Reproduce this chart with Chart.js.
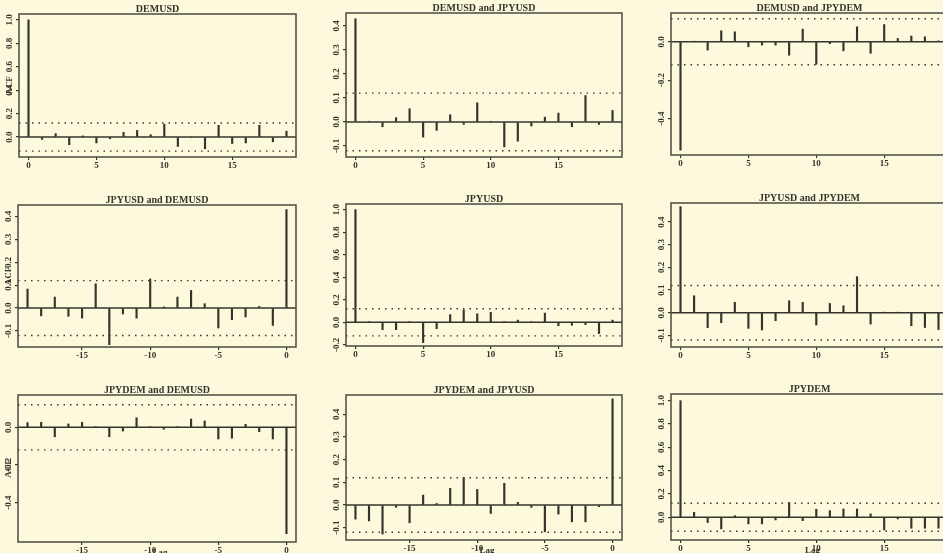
<!DOCTYPE html>
<html lang="en">
<head>
<meta charset="UTF-8">
<title>ACF and CCF of DEMUSD, JPYUSD, JPYDEM</title>
<script src="https://cdn.jsdelivr.net/npm/chart.js"></script>
<style>
    html, body {
        margin: 0;
        padding: 0;
        width: 943px;
        height: 553px;
        overflow: hidden;
        background: #fcf9dd;
    }
    canvas {
        position: absolute;
    }
</style>
</head>
<body>
<canvas id="p1"></canvas>
<canvas id="p2"></canvas>
<canvas id="p3"></canvas>
<canvas id="p4"></canvas>
<canvas id="p5"></canvas>
<canvas id="p6"></canvas>
<canvas id="p7"></canvas>
<canvas id="p8"></canvas>
<canvas id="p9"></canvas>
<script>
// lags
const lagsPos = [0, 1, 2, 3, 4, 5, 6, 7, 8, 9, 10, 11, 12, 13, 14, 15, 16, 17, 18, 19];
const lagsNeg = [-19, -18, -17, -16, -15, -14, -13, -12, -11, -10, -9, -8, -7, -6, -5, -4, -3, -2, -1, 0];

// row 1
const acfDEMUSD = [1.0, -0.02, 0.03, -0.065, 0.01, -0.05, -0.015, 0.04, 0.057, 0.02, 0.11, -0.08, -0.005, -0.10, 0.10, -0.055, -0.05, 0.10, -0.04, 0.05];
const ccfDEMUSD_JPYUSD = [0.43, 0.003, -0.02, 0.018, 0.055, -0.063, -0.035, 0.03, -0.01, 0.08, 0.002, -0.104, -0.08, -0.017, 0.02, 0.037, -0.02, 0.11, -0.01, 0.048];
const ccfDEMUSD_JPYDEM = [-0.565, 0.003, -0.043, 0.057, 0.052, -0.026, -0.017, -0.017, -0.07, 0.066, -0.117, -0.01, -0.047, 0.078, -0.06, 0.09, 0.017, 0.03, 0.026, 0.005];

// row 2
const ccfJPYUSD_DEMUSD = [0.083, -0.034, 0.048, -0.036, -0.044, 0.106, -0.16, -0.026, -0.044, 0.127, 0.005, 0.048, 0.077, 0.019, -0.087, -0.051, -0.039, 0.007, -0.076, 0.43];
const acfJPYUSD = [1.0, 0.002, -0.065, -0.065, 0.002, -0.18, -0.056, 0.068, 0.11, 0.076, 0.088, 0.002, 0.02, 0.002, 0.082, -0.03, -0.026, -0.02, -0.1, 0.02];
const ccfJPYUSD_JPYDEM = [0.468, 0.075, -0.066, -0.044, 0.046, -0.069, -0.076, -0.035, 0.053, 0.046, -0.054, 0.041, 0.031, 0.159, -0.05, 0.002, 0.002, -0.057, -0.065, -0.074];

// row 3
const ccfJPYDEM_DEMUSD = [0.025, 0.027, -0.05, 0.018, 0.027, 0.003, -0.05, -0.02, 0.051, 0.002, -0.01, 0.002, 0.044, 0.034, -0.062, -0.058, 0.016, -0.023, -0.062, -0.566];
const ccfJPYDEM_JPYUSD = [-0.062, -0.07, -0.128, -0.01, -0.078, 0.044, 0.007, 0.074, 0.12, 0.069, -0.037, 0.096, 0.012, -0.01, -0.118, -0.04, -0.074, -0.074, -0.007, 0.468];
const acfJPYDEM = [1.0, 0.043, -0.046, -0.1, 0.014, -0.057, -0.057, -0.023, 0.126, -0.029, 0.069, 0.057, 0.071, 0.071, 0.029, -0.109, -0.014, -0.094, -0.094, -0.094];

// approx 95% bound, drawn dotted
const confBound = 0.12;

// tick labels
const xTicksPos = [0, 5, 10, 15];
const xTicksNeg = [-15, -10, -5, 0];
const yTicksAcf = [0, 0.2, 0.4, 0.6, 0.8, 1.0];
const yTicksAcfLow = [-0.2, 0, 0.2, 0.4, 0.6, 0.8, 1.0];
const yTicksCross = [-0.1, 0, 0.1, 0.2, 0.3, 0.4];
const yTicksNeg = [-0.4, -0.2, 0];

const ink = '#35352c';
const serif = "'Liberation Serif', 'DejaVu Serif', serif";

// box = [left, top, right, bottom] of the plot frame on the page
const panels = [
    { id: 'p1', title: 'DEMUSD', lags: lagsPos, vals: acfDEMUSD, y: [-0.17, 1.05], yTicks: yTicksAcf, xTicks: xTicksPos, box: [19, 14, 296, 157], ylab: true },
    { id: 'p2', title: 'DEMUSD and JPYUSD', lags: lagsPos, vals: ccfDEMUSD_JPYUSD, y: [-0.146, 0.454], yTicks: yTicksCross, xTicks: xTicksPos, box: [346, 13, 622, 157] },
    { id: 'p3', title: 'DEMUSD and JPYDEM', lags: lagsPos, vals: ccfDEMUSD_JPYDEM, y: [-0.59, 0.15], yTicks: yTicksNeg, xTicks: xTicksPos, box: [671, 13, 948, 155] },
    { id: 'p4', title: 'JPYUSD and DEMUSD', lags: lagsNeg, vals: ccfJPYUSD_DEMUSD, y: [-0.17, 0.45], yTicks: yTicksCross, xTicks: xTicksNeg, box: [18, 205, 296, 347], ylab: true },
    { id: 'p5', title: 'JPYUSD', lags: lagsPos, vals: acfJPYUSD, y: [-0.21, 1.05], yTicks: yTicksAcfLow, xTicks: xTicksPos, box: [346, 204, 622, 346] },
    { id: 'p6', title: 'JPYUSD and JPYDEM', lags: lagsPos, vals: ccfJPYUSD_JPYDEM, y: [-0.151, 0.484], yTicks: yTicksCross, xTicks: xTicksPos, box: [671, 203, 948, 347] },
    { id: 'p7', title: 'JPYDEM and DEMUSD', lags: lagsNeg, vals: ccfJPYDEM_DEMUSD, y: [-0.61, 0.172], yTicks: yTicksNeg, xTicks: xTicksNeg, box: [18, 395, 296, 542], ylab: true, xlab: true },
    { id: 'p8', title: 'JPYDEM and JPYUSD', lags: lagsNeg, vals: ccfJPYDEM_JPYUSD, y: [-0.154, 0.485], yTicks: yTicksCross, xTicks: xTicksNeg, box: [346, 395, 622, 540], xlab: true },
    { id: 'p9', title: 'JPYDEM', lags: lagsPos, vals: acfJPYDEM, y: [-0.195, 1.057], yTicks: yTicksAcf, xTicks: xTicksPos, box: [671, 394, 948, 540], xlab: true }
];

const Y_W = 18, TITLE_H = 14, X_H = 20, PAD_R = 2;

// frame, rotated y labels, ACF / Lag titles
const decor = {
    id: 'decor',
    afterDatasetsDraw(chart) {
        const a = chart.chartArea, ctx = chart.ctx;
        ctx.save();
        ctx.strokeStyle = '#4a4a40';
        ctx.lineWidth = 1.5;
        ctx.strokeRect(a.left, a.top, a.right - a.left, a.bottom - a.top);
        ctx.restore();
    },
    afterDraw(chart, args, opts) {
        const a = chart.chartArea, ctx = chart.ctx, ys = chart.scales.y;
        ctx.save();
        ctx.fillStyle = ink;
        ctx.font = 'bold 9px ' + serif;
        ctx.textAlign = 'center';
        ctx.textBaseline = 'middle';
        ys.ticks.forEach(t => {
            const py = ys.getPixelForValue(t.value);
            ctx.save();
            ctx.translate(a.left - 9, py);
            ctx.rotate(-Math.PI / 2);
            ctx.fillText(t.value.toFixed(1), 0, 0);
            ctx.restore();
        });
        if (opts.ylab) {
            ctx.save();
            ctx.translate(a.left - 9, (a.top + a.bottom) / 2);
            ctx.rotate(-Math.PI / 2);
            ctx.fillText('ACF', 0, 0);
            ctx.restore();
        }
        if (opts.xlab) {
            ctx.fillText('Lag', (a.left + a.right) / 2 + 3, a.bottom + 11);
        }
        ctx.restore();
    }
};

panels.forEach(p => {
    const [L, T, R, B] = p.box;
    const cv = document.getElementById(p.id);
    cv.width = R - L + Y_W + PAD_R;
    cv.height = B - T + TITLE_H + X_H;
    cv.style.left = (L - Y_W) + 'px';
    cv.style.top = (T - TITLE_H) + 'px';

    const xMin = p.lags === lagsPos ? -0.7 : -19.7;
    const xMax = p.lags === lagsPos ? 19.7 : 0.7;
    const flat = v => [{ x: xMin, y: v }, { x: xMax, y: v }];

    new Chart(cv.getContext('2d'), {
        type: 'bar',
        data: {
            datasets: [
                {
                    type: 'bar',
                    data: p.lags.map((lag, i) => ({ x: lag, y: p.vals[i] })),
                    backgroundColor: ink,
                    borderWidth: 0,
                    barThickness: 1.5,
                    grouped: false
                },
                {
                    type: 'line',
                    data: flat(0),
                    borderColor: ink,
                    borderWidth: 1.5,
                    pointRadius: 0
                },
                {
                    type: 'line',
                    data: flat(confBound),
                    borderColor: ink,
                    borderWidth: 1.4,
                    borderDash: [1.5, 5],
                    pointRadius: 0
                },
                {
                    type: 'line',
                    data: flat(-confBound),
                    borderColor: ink,
                    borderWidth: 1.4,
                    borderDash: [1.5, 5],
                    pointRadius: 0
                }
            ]
        },
        options: {
            responsive: false,
            animation: false,
            events: [],
            layout: { padding: { left: 0, right: PAD_R, top: 0, bottom: 0 } },
            plugins: {
                legend: { display: false },
                tooltip: { enabled: false },
                title: {
                    display: true,
                    text: p.title,
                    fullSize: false,
                    color: ink,
                    font: { family: serif, size: 10, weight: 'bold', lineHeight: 1 },
                    padding: { top: 4, bottom: 0 }
                },
                decor: { ylab: !!p.ylab, xlab: !!p.xlab }
            },
            scales: {
                x: {
                    type: 'linear',
                    min: xMin,
                    max: xMax,
                    offset: false,
                    afterBuildTicks: s => { s.ticks = p.xTicks.map(v => ({ value: v })); },
                    afterFit: s => { s.height = X_H; },
                    grid: { drawOnChartArea: false, offset: false, drawTicks: true, tickLength: 3, color: ink, lineWidth: 1.2 },
                    border: { display: false },
                    ticks: { color: ink, padding: 0, maxRotation: 0, font: { family: serif, size: 9, weight: 'bold' } }
                },
                y: {
                    type: 'linear',
                    min: p.y[0],
                    max: p.y[1],
                    afterBuildTicks: s => { s.ticks = p.yTicks.map(v => ({ value: v })); },
                    afterFit: s => { s.width = Y_W; },
                    grid: { drawOnChartArea: false, drawTicks: true, tickLength: 3, color: ink, lineWidth: 1.2 },
                    border: { display: false },
                    ticks: { display: false }
                }
            }
        },
        plugins: [decor]
    });
});
</script>
</body>
</html>
